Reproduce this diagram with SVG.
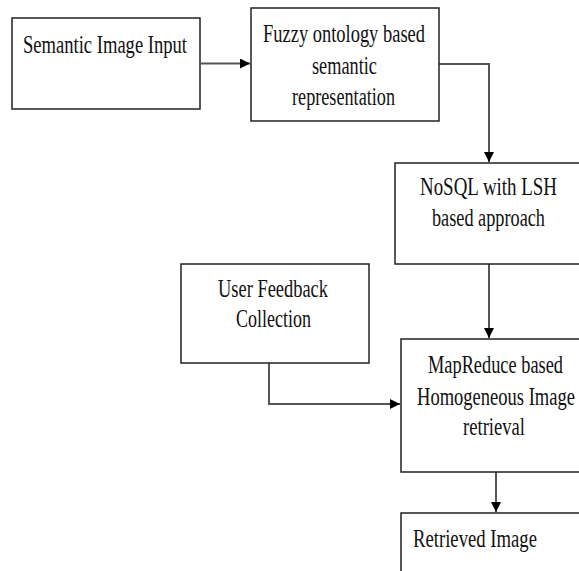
<svg xmlns="http://www.w3.org/2000/svg" width="579" height="571" viewBox="0 0 579 571">
<defs>
<style>
.box{fill:#fff;stroke:#222;stroke-width:1.5}
.lbl{font-family:"Liberation Serif","Times New Roman",serif;font-size:18.5px;fill:#111}
.con{fill:none;stroke:#555;stroke-width:2}
</style>
<marker id="ah" markerUnits="userSpaceOnUse" markerWidth="11" markerHeight="10" refX="10" refY="5" orient="auto">
<path d="M0,0 L10,5 L0,10 Z" fill="#000"/>
</marker>
</defs>
<rect width="579" height="571" fill="#fff"/>
<g id="connectors">
<path class="con" d="M201,63.5 H250" marker-end="url(#ah)"/>
<path class="con" d="M439,64 H489 V162" marker-end="url(#ah)"/>
<path class="con" d="M489,264 V338" marker-end="url(#ah)"/>
<path class="con" d="M269,363 V404 H400" marker-end="url(#ah)"/>
<path class="con" d="M496,472 V512" marker-end="url(#ah)"/>
</g>
<g id="n1">
<rect class="box" x="12" y="18" width="188" height="91"/>
<text class="lbl" transform="translate(23,53) scale(1,1.35)" textLength="164" lengthAdjust="spacingAndGlyphs">Semantic Image Input</text>
</g>
<g id="n2">
<rect class="box" x="251" y="8" width="188" height="113"/>
<text class="lbl" transform="translate(263,42) scale(1,1.35)" textLength="162" lengthAdjust="spacingAndGlyphs">Fuzzy ontology based</text>
<text class="lbl" transform="translate(312,74) scale(1,1.35)" textLength="65" lengthAdjust="spacingAndGlyphs">semantic</text>
<text class="lbl" transform="translate(292,105) scale(1,1.35)" textLength="103" lengthAdjust="spacingAndGlyphs">representation</text>
</g>
<g id="n3">
<path class="box" d="M579,163 H395 V264 H579"/>
<text class="lbl" transform="translate(420,195) scale(1,1.35)" textLength="137" lengthAdjust="spacingAndGlyphs">NoSQL with LSH</text>
<text class="lbl" transform="translate(432,226) scale(1,1.35)" textLength="113" lengthAdjust="spacingAndGlyphs">based approach</text>
</g>
<g id="n4">
<rect class="box" x="181" y="264" width="188" height="99"/>
<text class="lbl" transform="translate(218,297) scale(1,1.35)" textLength="110" lengthAdjust="spacingAndGlyphs">User Feedback</text>
<text class="lbl" transform="translate(236,327) scale(1,1.35)" textLength="75" lengthAdjust="spacingAndGlyphs">Collection</text>
</g>
<g id="n5">
<path class="box" d="M579,339 H401 V472 H579"/>
<text class="lbl" transform="translate(428,373) scale(1,1.35)" textLength="135" lengthAdjust="spacingAndGlyphs">MapReduce based</text>
<text class="lbl" transform="translate(417,405) scale(1,1.35)" textLength="158" lengthAdjust="spacingAndGlyphs">Homogeneous Image</text>
<text class="lbl" transform="translate(463,435) scale(1,1.35)" textLength="62" lengthAdjust="spacingAndGlyphs">retrieval</text>
</g>
<g id="n6">
<path class="box" d="M579,513 H401 V571"/>
<text class="lbl" transform="translate(413,547) scale(1,1.35)" textLength="124" lengthAdjust="spacingAndGlyphs">Retrieved Image</text>
</g>
</svg>
